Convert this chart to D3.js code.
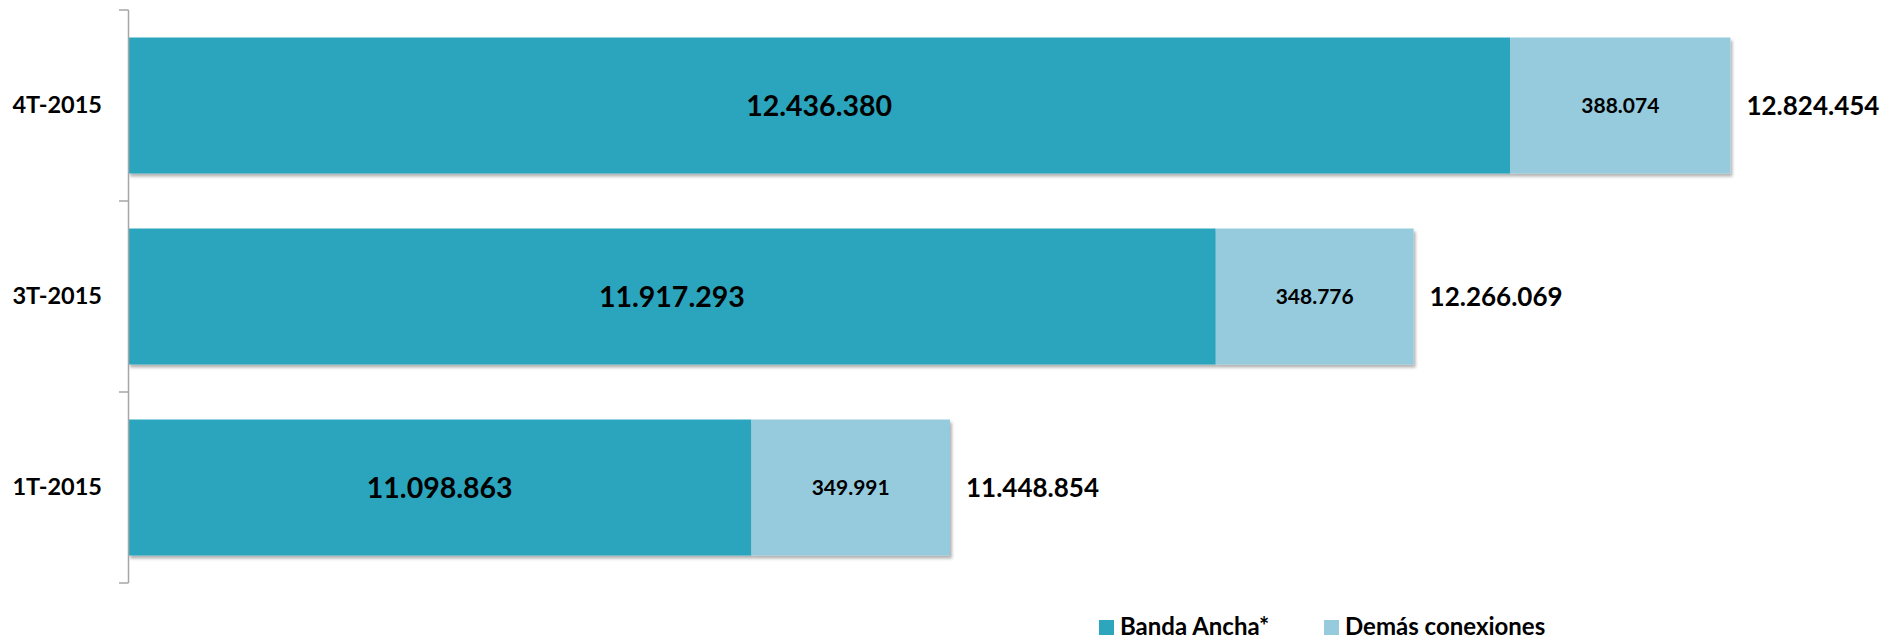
<!DOCTYPE html>
<html>
<head>
<meta charset="utf-8">
<script src="https://cdn.jsdelivr.net/npm/d3@7"></script>
<style>
  html, body { margin: 0; padding: 0; background: #fff; }
  svg { display: block; }
  text { font-family: Lato, "Open Sans", sans-serif; font-weight: bold; fill: #000; }
</style>
</head>
<body>
<svg id="chart" width="1887" height="642"></svg>
<script>
const categories = ["4T-2015", "3T-2015", "1T-2015"];
const seriesNames = ["Banda Ancha*", "Demás conexiones"];
const bandaAncha = [12436380, 11917293, 11098863];
const demasConexiones = [388074, 348776, 349991];
const xDomain = [10000000, 13000000];

const colors = ["#2ca5bd", "#95cbdd"];
const svg = d3.select("#chart");

const loc = d3.formatLocale({ decimal: ",", thousands: ".", grouping: [3], currency: ["", ""] });
const fmt = loc.format(",d");

const x = d3.scaleLinear().domain(xDomain).range([128, 1830]);
const pad = 0.288;
const y = d3.scaleBand().domain(categories).range([10, 583]).paddingInner(pad).paddingOuter(pad / 2);

const defs = svg.append("defs");
const f = defs.append("filter").attr("id", "shadow").attr("x", "-5%").attr("y", "-10%").attr("width", "110%").attr("height", "130%");
f.append("feDropShadow").attr("dx", 2).attr("dy", 3).attr("stdDeviation", 1.6).attr("flood-color", "#000").attr("flood-opacity", 0.3);

const rows = categories.map((c, i) => ({
  cat: c,
  a: bandaAncha[i],
  b: demasConexiones[i],
  total: bandaAncha[i] + demasConexiones[i]
}));

// bars
const g = svg.append("g");
const bar = g.selectAll("g.bar").data(rows).join("g").attr("class", "bar").attr("filter", "url(#shadow)");
bar.append("rect")
  .attr("x", x(xDomain[0]))
  .attr("y", d => y(d.cat))
  .attr("width", d => x(d.a) - x(xDomain[0]))
  .attr("height", y.bandwidth())
  .attr("fill", colors[0]);
bar.append("rect")
  .attr("x", d => x(d.a))
  .attr("y", d => y(d.cat))
  .attr("width", d => x(d.total) - x(d.a))
  .attr("height", y.bandwidth())
  .attr("fill", colors[1]);

// labels
const lab = svg.append("g");
lab.selectAll("text.a").data(rows).join("text").attr("class", "a")
  .attr("x", d => (x(xDomain[0]) + x(d.a)) / 2)
  .attr("y", d => y(d.cat) + y.bandwidth() / 2)
  .attr("dy", "0.36em")
  .attr("text-anchor", "middle")
  .style("font-size", "28.5px")
  .text(d => fmt(d.a));
lab.selectAll("text.b").data(rows).join("text").attr("class", "b")
  .attr("x", d => (x(d.a) + x(d.total)) / 2)
  .attr("y", d => y(d.cat) + y.bandwidth() / 2)
  .attr("dy", "0.36em")
  .attr("text-anchor", "middle")
  .style("font-size", "21px")
  .text(d => fmt(d.b));
lab.selectAll("text.t").data(rows).join("text").attr("class", "t")
  .attr("x", d => x(d.total) + 16)
  .attr("y", d => y(d.cat) + y.bandwidth() / 2)
  .attr("dy", "0.36em")
  .attr("text-anchor", "start")
  .style("font-size", "26px")
  .text(d => fmt(d.total));

// axis
const ax = svg.append("g").attr("transform", `translate(${x(xDomain[0])},0)`);
const yAxis = d3.axisLeft(y).tickSize(0).tickPadding(26);
ax.call(yAxis);
ax.select(".domain").remove();
ax.selectAll(".tick text").style("font-size", "23.5px").style("font-family", "Lato, sans-serif").style("font-weight", "bold").attr("fill", "#000");
const step = y.step();
const y0 = y.range()[0];
ax.append("line").attr("x1", 0.5).attr("x2", 0.5).attr("y1", y0).attr("y2", y.range()[1]).attr("stroke", "#a6a6a6").attr("stroke-width", 1.5);
ax.selectAll("line.tk").data(d3.range(categories.length + 1)).join("line").attr("class", "tk")
  .attr("x1", -9).attr("x2", 0.5)
  .attr("y1", i => y0 + i * step).attr("y2", i => y0 + i * step)
  .attr("stroke", "#a6a6a6").attr("stroke-width", 1.5);

// legend
const legX = [1099, 1324];
const leg = svg.append("g");
const li = leg.selectAll("g").data(seriesNames).join("g").attr("transform", (d, i) => `translate(${legX[i]},620)`);
li.append("rect").attr("width", 15).attr("height", 15).attr("fill", (d, i) => colors[i]);
li.append("text").attr("x", 21).attr("y", 15).style("font-size", "24px").text(d => d);
</script>
</body>
</html>
